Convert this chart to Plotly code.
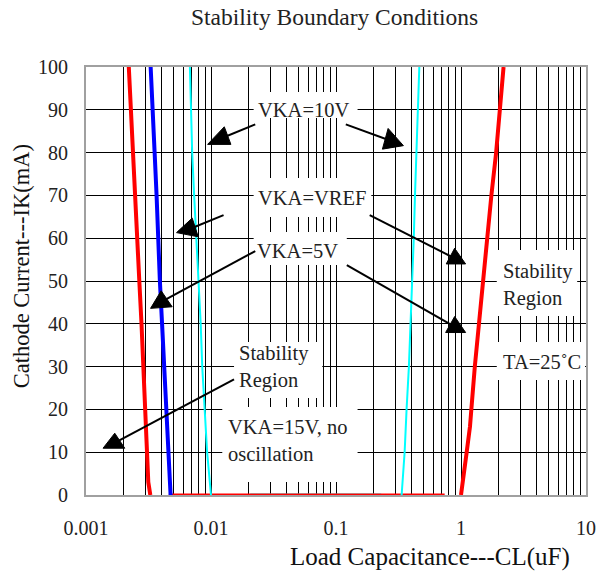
import numpy as np
import plotly.graph_objects as go

# ---------------- data ----------------
ik_red_left = [100, 90, 80, 70, 60, 50, 40, 30, 20, 10, 3, 0]
cl_red_left = [0.00220, 0.00228, 0.00236, 0.00247, 0.00254, 0.00267, 0.00278,
               0.00287, 0.00293, 0.00304, 0.00315, 0.00327]

ik_blue = [100, 90, 80, 70, 60, 50, 40, 30, 20, 10, 3, 0]
cl_blue = [0.00329, 0.00339, 0.00354, 0.00367, 0.00376, 0.00390, 0.00406,
           0.00424, 0.00440, 0.00458, 0.00473, 0.00475]

ik_cyan_left = [100, 90, 80, 70, 60, 50, 40, 30, 20, 10, 0]
cl_cyan_left = [0.00678, 0.00690, 0.00707, 0.00733, 0.00764, 0.00788, 0.00827,
                0.00851, 0.00889, 0.00931, 0.0100]

ik_cyan_right = [100, 90, 80, 70, 60, 50, 40, 30, 20, 10, 0]
cl_cyan_right = [0.464, 0.450, 0.440, 0.4285, 0.419, 0.407, 0.394, 0.383,
                 0.367, 0.354, 0.335]

ik_red_right = [100, 90, 80, 70, 60, 50, 40, 30, 20, 16, 10, 0]
cl_red_right = [2.19, 2.06, 1.91, 1.75, 1.62, 1.50, 1.38, 1.29, 1.21, 1.18,
                1.11, 1.00]

ik_red_bottom = [0, 0]
cl_red_bottom = [0.0046, 0.74]
ik_cyan_bottom = [0, 0]
cl_cyan_bottom = [0.0206, 0.23]

x_decades = [0.001, 0.01, 0.1, 1, 10]
x_tick_labels = ["0.001", "0.01", "0.1", "1", "10"]
y_ticks = list(range(0, 101, 10))

title_text = "Stability Boundary Conditions"
x_title = "Load Capacitance---CL(uF)"
y_title = "Cathode Current---IK(mA)"

# annotation texts and positions (CL value, IK value)
labels = [
    ("VKA=10V", 0.0549, 90.0, "center"),
    ("VKA=VREF", 0.0638, 69.3, "center"),
    ("VKA=5V", 0.0494, 57.1, "center"),
    ("Stability<br>Region", 0.0162, 29.9, "left"),
    ("VKA=15V, no<br>oscillation", 0.0132, 12.85, "left"),
    ("Stability<br>Region", 2.07, 49.1, "left"),
    ("TA=25˚C", 4.42, 31.0, "center"),
]

# arrows: tail (CL, IK) -> head (CL, IK)
arrow_tails = [(0.0226, 86.6), (0.1198, 86.6), (0.0126, 65.4), (0.186, 65.4),
               (0.0226, 57.0), (0.122, 53.7), (0.01528, 27.0)]
arrow_heads = [(0.0120, 83.3), (0.277, 82.7), (0.00667, 62.1), (0.904, 55.2),
               (0.0040, 45.1), (0.901, 39.2), (0.00168, 12.1)]
# triangle vertex offsets in pixels (x right, y up) around each head
head_shapes = [
    [(-13.3, -5.9), (3.4, 11.7), (10.0, -5.9)],
    [(-8.9, -8.1), (-3.2, 12.6), (12.1, -4.6)],
    [(-12.5, -3.4), (3.2, 11.1), (9.2, -7.6)],
    [(-9.3, -5.2), (-0.9, 10.5), (10.1, -5.2)],
    [(-10.7, -6.4), (-0.1, 11.2), (10.9, -4.8)],
    [(-9.7, -5.3), (-0.7, 10.7), (10.3, -5.3)],
    [(-11.1, -5.0), (0.6, 10.0), (10.6, -5.0)],
]

# white label boxes that mask the grid (pixel boxes in the 607x577 canvas)
PLOT_L, PLOT_T, PLOT_W, PLOT_H = 86, 67, 510, 428
label_boxes_px = [(257, 92, 363, 118), (257, 178, 377, 217), (257, 232, 352, 265),
                  (237, 342, 327, 398), (225, 407, 363, 482),
                  (505, 250, 587, 316), (505, 342, 595, 380)]

# ---------------- figure ----------------
RED = "#ff0000"
BLUE = "#0000ff"
CYAN = "#00ffff"

fig = go.Figure()
fig.add_trace(go.Scatter(x=cl_cyan_bottom, y=ik_cyan_bottom, mode="lines",
                         line=dict(color=CYAN, width=3)))
fig.add_trace(go.Scatter(x=cl_red_bottom, y=ik_red_bottom, mode="lines",
                         line=dict(color=RED, width=3)))
fig.add_trace(go.Scatter(x=cl_red_left, y=ik_red_left, mode="lines",
                         line=dict(color=RED, width=4)))
fig.add_trace(go.Scatter(x=cl_blue, y=ik_blue, mode="lines",
                         line=dict(color=BLUE, width=4)))
fig.add_trace(go.Scatter(x=cl_cyan_left, y=ik_cyan_left, mode="lines",
                         line=dict(color=CYAN, width=2)))
fig.add_trace(go.Scatter(x=cl_cyan_right, y=ik_cyan_right, mode="lines",
                         line=dict(color=CYAN, width=2)))
fig.add_trace(go.Scatter(x=cl_red_right, y=ik_red_right, mode="lines",
                         line=dict(color=RED, width=4)))

# grid ticks: every 1..9 multiple of each decade
grid_vals = []
grid_text = []
for d, lab in zip(x_decades[:-1], x_tick_labels[:-1]):
    for m in range(1, 10):
        grid_vals.append(d * m)
        grid_text.append(lab if m == 1 else "")
grid_vals.append(x_decades[-1])
grid_text.append(x_tick_labels[-1])

SERIF = "Liberation Serif"

fig.update_xaxes(type="log", range=[np.log10(x_decades[0]), np.log10(x_decades[-1])],
                 tickvals=grid_vals, ticktext=grid_text,
                 showgrid=True, gridcolor="black", gridwidth=1,
                 showline=True, linecolor="#a0a0a0", linewidth=2, mirror=True,
                 ticks="", ticklabelstandoff=14,
                 tickfont=dict(family=SERIF, size=20, color="#222"),
                 zeroline=False)
fig.update_yaxes(range=[0, 100], tickvals=y_ticks,
                 showgrid=True, gridcolor="black", gridwidth=1,
                 showline=True, linecolor="#a0a0a0", linewidth=2, mirror=True,
                 ticks="", ticklabelstandoff=12,
                 tickfont=dict(family=SERIF, size=20, color="#222"),
                 zeroline=False)

annotations = []
for txt, cx, cy, al in labels:
    annotations.append(dict(
        x=np.log10(cx), y=cy, xref="x", yref="y", text=txt, showarrow=False,
        xanchor=al, yanchor="middle", align="left",
        font=dict(family=SERIF, size=20.5, color="#222")))

annotations.append(dict(x=(339 - PLOT_L) / PLOT_W, y=(PLOT_T + PLOT_H - 17) / PLOT_H,
                        xref="paper", yref="paper",
                        text=title_text, showarrow=False, xanchor="center",
                        yanchor="middle", font=dict(family=SERIF, size=23.5, color="#222")))
annotations.append(dict(x=(437 - PLOT_L) / PLOT_W, y=(PLOT_T + PLOT_H - 557) / PLOT_H,
                        xref="paper", yref="paper",
                        text=x_title, showarrow=False, xanchor="center",
                        yanchor="middle", font=dict(family=SERIF, size=25, color="#111")))
annotations.append(dict(x=(20 - PLOT_L) / PLOT_W, y=(PLOT_T + PLOT_H - 266) / PLOT_H,
                        xref="paper", yref="paper",
                        text=y_title, showarrow=False, textangle=-90,
                        xanchor="center", yanchor="middle",
                        font=dict(family=SERIF, size=22.5, color="#111")))

shapes = []
for (x0, y0, x1, y1) in label_boxes_px:
    shapes.append(dict(type="rect", xref="paper", yref="paper",
                       x0=(x0 - PLOT_L) / PLOT_W, x1=(x1 - PLOT_L) / PLOT_W,
                       y0=(PLOT_T + PLOT_H - y1) / PLOT_H, y1=(PLOT_T + PLOT_H - y0) / PLOT_H,
                       fillcolor="white", line=dict(width=0), layer="above"))
for (tx, ty), (hx, hy), tri in zip(arrow_tails, arrow_heads, head_shapes):
    shapes.append(dict(type="line", xref="x", yref="y", x0=tx, y0=ty, x1=hx, y1=hy,
                       line=dict(color="black", width=2), layer="above"))
    path = "M{},{} L{},{} L{},{} Z".format(tri[0][0], tri[0][1], tri[1][0], tri[1][1],
                                          tri[2][0], tri[2][1])
    shapes.append(dict(type="path", xref="x", yref="y", xsizemode="pixel",
                       ysizemode="pixel", xanchor=hx, yanchor=hy, path=path,
                       fillcolor="black", line=dict(color="black", width=1),
                       layer="above"))

fig.update_layout(width=607, height=577, showlegend=False,
                  margin=dict(l=PLOT_L, r=607 - PLOT_L - PLOT_W, t=PLOT_T,
                              b=577 - PLOT_T - PLOT_H, pad=0),
                  plot_bgcolor="white", paper_bgcolor="white",
                  annotations=annotations, shapes=shapes)

# remove the default page margin so the 607x577 figure fills the window exactly
fig.write_html("out.html", config={"displayModeBar": False},
               post_script="document.body.style.margin='0px';document.body.style.overflow='hidden';")
